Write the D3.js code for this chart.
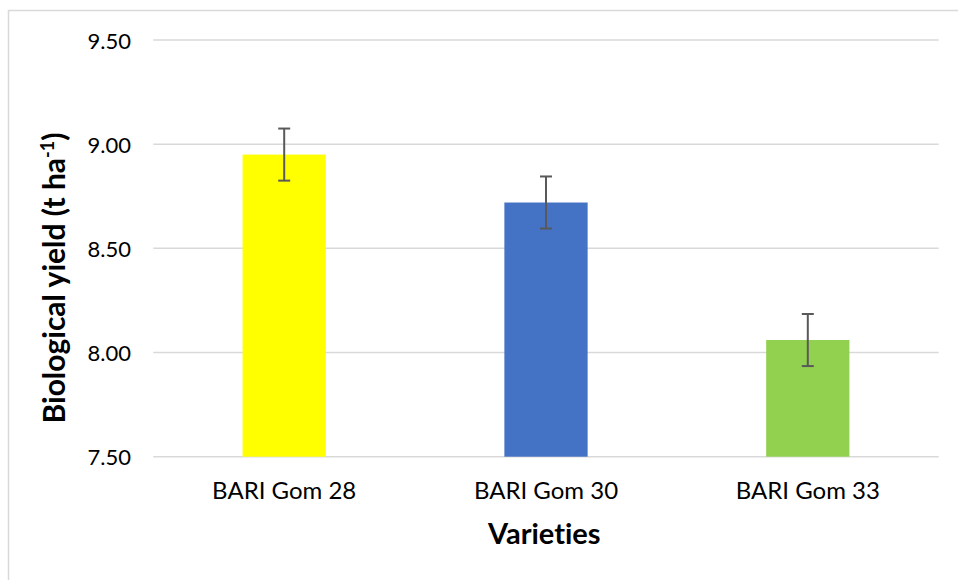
<!DOCTYPE html>
<html>
<head>
<meta charset="utf-8">
<script src="https://cdn.jsdelivr.net/npm/d3@7"></script>
<style>
  html, body { margin: 0; padding: 0; background: #fff; }
  svg { display: block; font-family: Lato, "Open Sans", sans-serif; }
  svg text { font-variant-ligatures: none; font-feature-settings: "liga" 0, "clig" 0; }
</style>
</head>
<body>
<svg id="chart" width="958" height="580"></svg>
<script>
const categories = ["BARI Gom 28", "BARI Gom 30", "BARI Gom 33"];
const values = [8.95, 8.72, 8.06];
const errors = [0.125, 0.125, 0.125];
const colors = ["#FFFF00", "#4472C4", "#92D050"];
const yTicks = [7.5, 8.0, 8.5, 9.0, 9.5];

const svg = d3.select("#chart");
const W = 958, H = 580;
const plot = { left: 153.3, right: 938.7, top: 40, bottom: 456.7 };

// outer chart border
svg.append("rect")
  .attr("x", 8.5).attr("y", 10.5)
  .attr("width", W + 10).attr("height", H + 10)
  .attr("fill", "none").attr("stroke", "#d9d9d9").attr("stroke-width", 1.5);

const x = d3.scaleBand()
  .domain(categories)
  .range([plot.left, plot.right])
  .paddingInner(0.682)
  .paddingOuter(0.341);

const y = d3.scaleLinear()
  .domain([7.5, 9.5])
  .range([plot.bottom, plot.top]);

// gridlines
svg.append("g").selectAll("line").data(yTicks).join("line")
  .attr("x1", plot.left).attr("x2", plot.right)
  .attr("y1", d => y(d)).attr("y2", d => y(d))
  .attr("stroke", "#d9d9d9").attr("stroke-width", 1.5);

// y tick labels
svg.append("g").selectAll("text").data(yTicks).join("text")
  .attr("x", 131).attr("y", d => y(d))
  .attr("text-anchor", "end").attr("dominant-baseline", "central")
  .attr("font-size", 22).attr("fill", "#000")
  .text(d => d3.format(".2f")(d));

// bars
svg.append("g").selectAll("rect").data(categories).join("rect")
  .attr("x", d => x(d)).attr("width", x.bandwidth())
  .attr("y", (d, i) => y(values[i]))
  .attr("height", (d, i) => y(7.5) - y(values[i]))
  .attr("fill", (d, i) => colors[i]);

// error bars
const eg = svg.append("g").attr("stroke", "#595959").attr("stroke-width", 2);
categories.forEach((c, i) => {
  const cx = x(c) + x.bandwidth() / 2;
  const yt = y(values[i] + errors[i]), yb = y(values[i] - errors[i]);
  eg.append("line").attr("x1", cx).attr("x2", cx).attr("y1", yt).attr("y2", yb);
  eg.append("line").attr("x1", cx - 6).attr("x2", cx + 6).attr("y1", yt).attr("y2", yt);
  eg.append("line").attr("x1", cx - 6).attr("x2", cx + 6).attr("y1", yb).attr("y2", yb);
});

// x labels
svg.append("g").selectAll("text").data(categories).join("text")
  .attr("x", d => x(d) + x.bandwidth() / 2).attr("y", 499)
  .attr("text-anchor", "middle")
  .attr("font-size", 24).attr("fill", "#000")
  .text(d => d);

// x title
svg.append("text")
  .attr("x", 544.3).attr("y", 544)
  .attr("text-anchor", "middle")
  .attr("font-size", 29).attr("font-weight", "bold").attr("fill", "#000")
  .text("Varieties");

// y title
const yt = svg.append("text")
  .attr("transform", "translate(65,278) rotate(-90)")
  .attr("text-anchor", "middle")
  .attr("font-size", 30).attr("font-weight", "bold").attr("fill", "#000");
yt.append("tspan").text("Biological yield (t ha");
yt.append("tspan").attr("baseline-shift", "super").attr("font-size", 18).text("-1");
yt.append("tspan").text(")");
</script>
</body>
</html>
